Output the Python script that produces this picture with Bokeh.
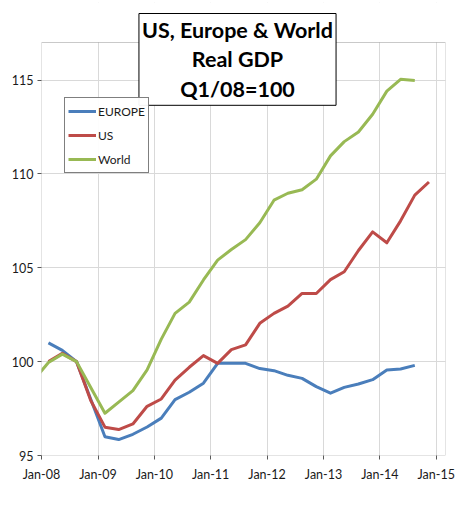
import datetime as dt
from bokeh.plotting import figure
from bokeh.models import (Label, Legend, LegendItem, FixedTicker, DatetimeTickFormatter,
                          Range1d, ColumnDataSource, BoxAnnotation)
from bokeh.embed import file_html
from bokeh.resources import INLINE

# ---- data (quarterly, Q1/08 = 100) ----
europe_start = "2008Q1"
europe = [101.0, 100.6, 100.0, 98.0, 96.0, 95.85, 96.13, 96.52, 96.99, 97.98, 98.37,
          98.85, 99.91, 99.91, 99.91, 99.63, 99.52, 99.27, 99.11, 98.67, 98.32, 98.63,
          98.81, 99.04, 99.56, 99.61, 99.80]
us_start = "2008Q1"
us = [100.0, 100.44, 100.0, 97.93, 96.51, 96.38, 96.68, 97.62, 98.01, 99.02, 99.70,
      100.32, 99.91, 100.64, 100.89, 102.04, 102.57, 102.96, 103.63, 103.63, 104.37,
      104.79, 105.92, 106.91, 106.33, 107.5, 108.87, 109.57]
world_start = "2007Q4"
world = [99.05, 99.95, 100.4, 100.0, 98.62, 97.25, 97.84, 98.46, 99.56, 101.2, 102.57,
         103.17, 104.35, 105.41, 105.97, 106.5, 107.4, 108.6, 108.97, 109.16, 109.72,
         110.96, 111.72, 112.23, 113.18, 114.41, 115.04, 114.98]
tick_years = [2008, 2009, 2010, 2011, 2012, 2013, 2014, 2015]
y_ticks = [95, 100, 105, 110, 115]
y_min, y_max = 95, 117
series_names = ["EUROPE", "US", "World"]
colors = ["#4a7ebb", "#be4b48", "#98b954"]
title_text = "US, Europe & World\nReal GDP\nQ1/08=100"


def quarter_dates(start, n):
    y, q = int(start[:4]), int(start[5])
    out = []
    for _ in range(n):
        out.append(dt.datetime(y, 3 * (q - 1) + 2, 15))
        q += 1
        if q > 4:
            q, y = 1, y + 1
    return out


ms = lambda d: (d - dt.datetime(1970, 1, 1)).total_seconds() * 1000.0

FONT = "Lato"
x_start = dt.datetime(2008, 1, 1)
x_end = dt.datetime(2015, 3, 2)

# plot area 404x413 px; the frame is extended upward (40 px) so that the
# title box above the plot area is not clipped
PLOT_H, EXTRA_TOP = 413, 40
y_top = y_max + (y_max - y_min) * EXTRA_TOP / PLOT_H

p = figure(x_axis_type="datetime", output_backend="svg", toolbar_location=None,
           frame_width=404, frame_height=PLOT_H + EXTRA_TOP,
           min_border_left=41, min_border_top=2, min_border_right=21, min_border_bottom=45,
           x_range=Range1d(ms(x_start), ms(x_end)), y_range=Range1d(y_min, y_top),
           background_fill_color="white", border_fill_color="white")

p.outline_line_color = None

p.xgrid.grid_line_color = "#d9d9d9"
p.ygrid.grid_line_color = "#d9d9d9"

p.xaxis.ticker = FixedTicker(ticks=[ms(dt.datetime(yv, 1, 1)) for yv in tick_years])
p.xaxis.formatter = DatetimeTickFormatter(years="%b-%y", months="%b-%y", days="%b-%y")
p.yaxis.ticker = FixedTicker(ticks=y_ticks)

for ax in (p.xaxis[0], p.yaxis[0]):
    ax.axis_line_color = None
    ax.major_tick_line_color = "#595959"
    ax.major_tick_out = 4
    ax.major_tick_in = 0
    ax.minor_tick_out = 0
    ax.minor_tick_in = 0
    ax.major_label_text_font = FONT
    ax.major_label_text_font_size = "12.5px"
    ax.major_label_text_color = "#1a1a1a"
p.xaxis.major_label_standoff = 7
p.yaxis.major_label_standoff = 4

# white cover above the plot area, then the plot-area border
p.add_layout(BoxAnnotation(left=ms(x_start), right=ms(x_end), bottom=y_max, top=y_top,
                           fill_color="white", fill_alpha=1, line_color=None))
p.add_layout(BoxAnnotation(left=ms(x_start), right=ms(x_end), bottom=y_min, top=y_max,
                           fill_alpha=0, line_color="#4d4d4d", line_width=1))

items = []
for name, start, vals, col in zip(series_names, [europe_start, us_start, world_start],
                                  [europe, us, world], colors):
    src = ColumnDataSource(dict(x=[ms(d) for d in quarter_dates(start, len(vals))], y=vals))
    r = p.line("x", "y", source=src, line_color=col, line_width=3, line_join="round")
    items.append(LegendItem(label=name, renderers=[r]))

legend = Legend(items=items, location=(23, 282), border_line_color="black",
                border_line_width=1, background_fill_color="white",
                label_text_font=FONT, label_text_font_size="12px", label_text_color="#1a1a1a",
                glyph_width=28, glyph_height=20, label_height=20, label_standoff=2,
                spacing=4, padding=3, margin=0)
p.add_layout(legend, "center")

title = Label(x=196, y=442, x_units="screen", y_units="screen", text=title_text,
              text_align="center", text_baseline="top", text_font=FONT,
              text_font_style="bold", text_font_size="21.5px", text_line_height=1.15,
              text_color="black", border_line_color="black", border_line_width=1,
              background_fill_color="white", padding=3)
p.add_layout(title)

open("out.html", "w").write(file_html(p, INLINE))
